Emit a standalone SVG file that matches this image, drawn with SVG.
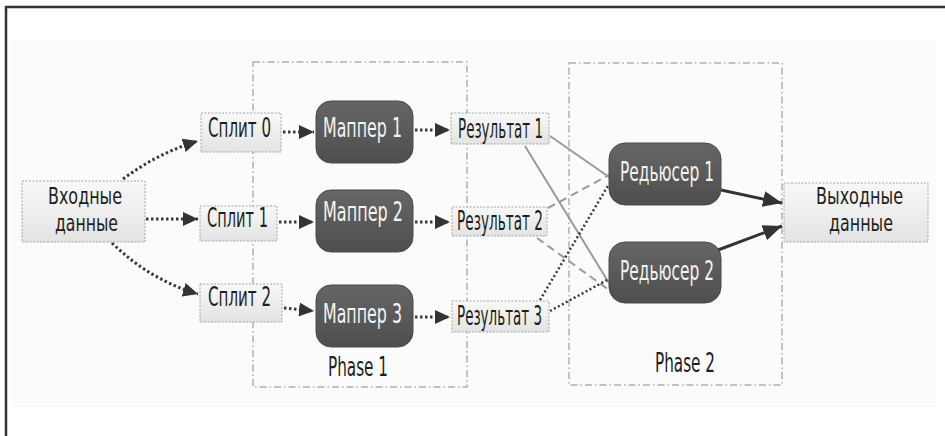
<svg xmlns="http://www.w3.org/2000/svg" width="945" height="436" viewBox="0 0 945 436">
<defs>
<linearGradient id="gLight" x1="0" y1="0" x2="0" y2="1">
<stop offset="0" stop-color="#f8f8f8"/>
<stop offset="1" stop-color="#e3e3e3"/>
</linearGradient>
<linearGradient id="gDark" x1="0" y1="0" x2="0" y2="1">
<stop offset="0" stop-color="#666666"/>
<stop offset="1" stop-color="#4e4e4e"/>
</linearGradient>
<marker id="arr" markerUnits="userSpaceOnUse" markerWidth="16" markerHeight="14" refX="15" refY="7" orient="auto">
<path d="M0,0 L15,7 L0,14 z" fill="#333"/>
</marker>
<marker id="arrBig" markerUnits="userSpaceOnUse" markerWidth="20" markerHeight="16" refX="19" refY="8" orient="auto">
<path d="M0,0 L19,8 L0,16 z" fill="#333"/>
</marker>
<style>
.light{fill:url(#gLight);stroke:#a5a5a5;stroke-width:1;stroke-dasharray:2,1.5}
.dark{fill:url(#gDark);stroke:#4a4a4a;stroke-width:1}
.phase{fill:none;stroke:#b0b0b0;stroke-width:1.5;stroke-dasharray:7,3,1.5,3}
.t{font-family:"Liberation Sans Narrow","DejaVu Sans Condensed","DejaVu Sans",sans-serif;font-size:26px;fill:#1e1e1e}
.t2{font-family:"Liberation Sans Narrow","DejaVu Sans Condensed","DejaVu Sans",sans-serif;font-size:23px;fill:#1e1e1e}
.tw{font-family:"Liberation Sans Narrow","DejaVu Sans Condensed","DejaVu Sans",sans-serif;font-size:26px;fill:#f4f4f4}
.dot{fill:none;stroke:#3a3a3a;stroke-width:3;stroke-dasharray:2.5,2.5}
.dotthin{fill:none;stroke:#3a3a3a;stroke-width:2.5;stroke-dasharray:2,2.5}
.solid{fill:none;stroke:#9a9a9a;stroke-width:2}
.dash{fill:none;stroke:#9a9a9a;stroke-width:2;stroke-dasharray:8,5}
.bold{fill:none;stroke:#333;stroke-width:3}
</style>
</defs>
<rect x="0" y="0" width="945" height="436" fill="#ffffff"/>
<rect x="11" y="40" width="926" height="367" fill="#fbfbfb"/>
<path d="M6,436 L6,7 L945,7" fill="none" stroke="#333" stroke-width="2.5"/>

<g id="phase1"><rect class="phase" x="253" y="62" width="214" height="325"/><text class="t" x="328" y="376" textLength="60" lengthAdjust="spacingAndGlyphs">Phase 1</text></g>
<g id="phase2"><rect class="phase" x="569" y="63" width="213" height="322"/><text class="t" x="655" y="372" textLength="60" lengthAdjust="spacingAndGlyphs">Phase 2</text></g>

<g id="connectors">
<path class="dot" d="M123,179 Q158,153 198,141" marker-end="url(#arr)"/>
<path class="dot" d="M146,219 L198,219" marker-end="url(#arr)"/>
<path class="dot" d="M112,243 Q150,280 198,294" marker-end="url(#arr)"/>
<path class="dot" d="M283,132 L314,132" marker-end="url(#arr)"/>
<path class="dot" d="M279,222 L314,222" marker-end="url(#arr)"/>
<path class="dot" d="M284,308 L314,311" marker-end="url(#arr)"/>
<path class="dot" d="M415,130 L450,130" marker-end="url(#arr)"/>
<path class="dot" d="M415,222 L450,222" marker-end="url(#arr)"/>
<path class="dot" d="M415,317 L450,317" marker-end="url(#arr)"/>
<path class="solid" d="M550,136 L609,177"/>
<path class="solid" d="M525,146 L609,283"/>
<path class="dash" d="M548,208 L609,175"/>
<path class="dash" d="M537,238 L609,290"/>
<path class="dotthin" d="M540,300 L609,184"/>
<path class="dotthin" d="M550,311 L609,279"/>
<path class="bold" d="M721,190 L782,203" marker-end="url(#arrBig)"/>
<path class="bold" d="M718,250 L782,226" marker-end="url(#arrBig)"/>
</g>

<g id="input"><rect class="light" x="22" y="181" width="123" height="61"/><text class="t2" x="48" y="204" textLength="74" lengthAdjust="spacingAndGlyphs">Входные</text><text class="t2" x="55" y="231" textLength="63" lengthAdjust="spacingAndGlyphs">данные</text></g>
<g id="split0"><rect class="light" x="201" y="113" width="80" height="39"/><text class="t" x="208" y="137" textLength="63" lengthAdjust="spacingAndGlyphs">Сплит 0</text></g>
<g id="split1"><rect class="light" x="200" y="206" width="77" height="35"/><text class="t" x="207" y="227" textLength="61" lengthAdjust="spacingAndGlyphs">Сплит 1</text></g>
<g id="split2"><rect class="light" x="200" y="284" width="82" height="38"/><text class="t" x="208" y="306" textLength="63" lengthAdjust="spacingAndGlyphs">Сплит 2</text></g>

<g id="mapper1"><rect class="dark" x="316" y="101" width="97" height="62" rx="15"/><text class="tw" x="323" y="137" textLength="79" lengthAdjust="spacingAndGlyphs">Маппер 1</text></g>
<g id="mapper2"><rect class="dark" x="316" y="190" width="97" height="62" rx="15"/><text class="tw" x="323" y="221" textLength="80" lengthAdjust="spacingAndGlyphs">Маппер 2</text></g>
<g id="mapper3"><rect class="dark" x="316" y="285" width="97" height="62" rx="15"/><text class="tw" x="323" y="323" textLength="79" lengthAdjust="spacingAndGlyphs">Маппер 3</text></g>

<g id="result1"><rect class="light" x="451" y="113" width="98" height="31"/><text class="t" x="458" y="138" textLength="85" lengthAdjust="spacingAndGlyphs">Результат 1</text></g>
<g id="result2"><rect class="light" x="452" y="207" width="95" height="29"/><text class="t" x="457" y="230" textLength="86" lengthAdjust="spacingAndGlyphs">Результат 2</text></g>
<g id="result3"><rect class="light" x="452" y="301" width="97" height="31"/><text class="t" x="457" y="325" textLength="85" lengthAdjust="spacingAndGlyphs">Результат 3</text></g>

<g id="reducer1"><rect class="dark" x="609" y="143" width="112" height="62" rx="16"/><text class="tw" x="620" y="181" textLength="94" lengthAdjust="spacingAndGlyphs">Редьюсер 1</text></g>
<g id="reducer2"><rect class="dark" x="609" y="242" width="112" height="61" rx="16"/><text class="tw" x="620" y="280" textLength="94" lengthAdjust="spacingAndGlyphs">Редьюсер 2</text></g>

<g id="output"><rect class="light" x="784" y="183" width="144" height="59"/><text class="t2" x="816" y="204" textLength="87" lengthAdjust="spacingAndGlyphs">Выходные</text><text class="t2" x="829" y="231" textLength="64" lengthAdjust="spacingAndGlyphs">данные</text></g>
</svg>
